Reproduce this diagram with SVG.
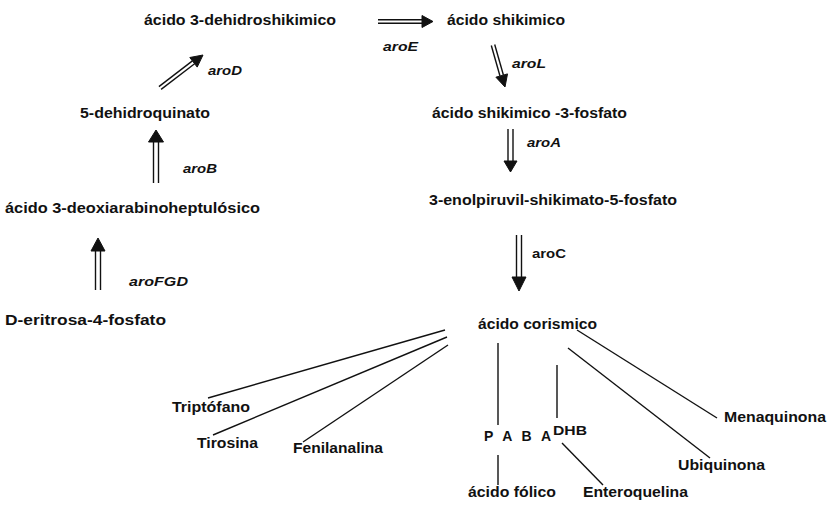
<svg xmlns="http://www.w3.org/2000/svg" width="833" height="508" viewBox="0 0 833 508">
<style>
.t{font-family:"Liberation Sans",Arial,sans-serif;font-weight:bold;font-size:14px;fill:#111}
.e{font-family:"Liberation Sans",Arial,sans-serif;font-weight:bold;font-style:italic;font-size:13px;fill:#111}
.s{font-family:"Liberation Sans",Arial,sans-serif;font-weight:bold;font-size:13px;fill:#111}
.l{stroke:#111;stroke-width:1.4;fill:none}
.h{fill:#111;stroke:#111;stroke-width:1;stroke-linejoin:round}
</style>
<rect width="833" height="508" fill="#fff"/>
<g id="n-dehidroshikimico"><text class="t" x="144" y="25" textLength="192" lengthAdjust="spacingAndGlyphs">ácido 3-dehidroshikimico</text></g>
<g id="n-shikimico"><text class="t" x="447" y="25" textLength="118" lengthAdjust="spacingAndGlyphs">ácido shikimico</text></g>
<g id="n-dehidroquinato"><text class="t" x="80" y="118" textLength="130" lengthAdjust="spacingAndGlyphs">5-dehidroquinato</text></g>
<g id="n-deoxiarabino"><text class="t" x="5" y="213" textLength="255" lengthAdjust="spacingAndGlyphs">ácido 3-deoxiarabinoheptulósico</text></g>
<g id="n-eritrosa"><text class="t" x="5" y="325" textLength="161" lengthAdjust="spacingAndGlyphs">D-eritrosa-4-fosfato</text></g>
<g id="n-shikimico3f"><text class="t" x="432" y="118" textLength="195" lengthAdjust="spacingAndGlyphs">ácido shikimico -3-fosfato</text></g>
<g id="n-enolpiruvil"><text class="t" x="429" y="205" textLength="248" lengthAdjust="spacingAndGlyphs">3-enolpiruvil-shikimato-5-fosfato</text></g>
<g id="n-corismico"><text class="t" x="478" y="329" textLength="119" lengthAdjust="spacingAndGlyphs">ácido corismico</text></g>
<g id="n-triptofano"><text class="t" x="172" y="412" textLength="78" lengthAdjust="spacingAndGlyphs">Triptófano</text></g>
<g id="n-tirosina"><text class="t" x="197" y="448" textLength="61" lengthAdjust="spacingAndGlyphs">Tirosina</text></g>
<g id="n-fenilanalina"><text class="t" x="293" y="453" textLength="90" lengthAdjust="spacingAndGlyphs">Fenilanalina</text></g>
<g id="n-paba"><text class="t" x="484" y="441" textLength="67" lengthAdjust="spacing">P A B A</text></g>
<g id="n-dhb"><text class="s" x="553" y="435" textLength="34" lengthAdjust="spacingAndGlyphs">DHB</text></g>
<g id="n-folico"><text class="t" x="468" y="497" textLength="88" lengthAdjust="spacingAndGlyphs">ácido fólico</text></g>
<g id="n-enteroquelina"><text class="t" x="583" y="497" textLength="105" lengthAdjust="spacingAndGlyphs">Enteroquelina</text></g>
<g id="n-ubiquinona"><text class="t" x="678" y="470" textLength="87" lengthAdjust="spacingAndGlyphs">Ubiquinona</text></g>
<g id="n-menaquinona"><text class="t" x="724" y="422" textLength="102" lengthAdjust="spacingAndGlyphs">Menaquinona</text></g>
<g id="labels">
<text class="e" x="383" y="51" textLength="35" lengthAdjust="spacingAndGlyphs">aroE</text>
<text class="e" x="208" y="75" textLength="34" lengthAdjust="spacingAndGlyphs">aroD</text>
<text class="e" x="512" y="68" textLength="34" lengthAdjust="spacingAndGlyphs">aroL</text>
<text class="e" x="183" y="173" textLength="34" lengthAdjust="spacingAndGlyphs">aroB</text>
<text class="e" x="527" y="147" textLength="34" lengthAdjust="spacingAndGlyphs">aroA</text>
<text class="s" x="532" y="258" textLength="34" lengthAdjust="spacingAndGlyphs">aroC</text>
<text class="e" x="129" y="286" textLength="59" lengthAdjust="spacingAndGlyphs">aroFGD</text>
</g>
<g id="connectors">
<line class="l" x1="378" y1="19.8" x2="424" y2="19.8"/>
<line class="l" x1="378" y1="23.3" x2="424" y2="23.3"/>
<polygon class="h" points="422,15.5 433,21.5 422,27.5"/>
<line class="l" x1="158.9" y1="86.6" x2="192.4" y2="60.9"/>
<line class="l" x1="161.1" y1="89.4" x2="194.6" y2="63.7"/>
<polygon class="h" points="203,55 197.2,67.1 189.8,57.5"/>
<line class="l" x1="491.3" y1="45.5" x2="500" y2="76"/>
<line class="l" x1="494.7" y1="44.5" x2="503.4" y2="75"/>
<polygon class="h" points="505,87 507.5,73.9 495.9,77.2"/>
<line class="l" x1="153.5" y1="183" x2="153.5" y2="141"/>
<line class="l" x1="158.5" y1="183" x2="158.5" y2="141"/>
<polygon class="h" points="148.5,142 156,130 163.5,142"/>
<line class="l" x1="95.5" y1="290" x2="95.5" y2="250"/>
<line class="l" x1="100.5" y1="290" x2="100.5" y2="250"/>
<polygon class="h" points="91,251 98,238 105,251"/>
<line class="l" x1="508" y1="129" x2="508" y2="162"/>
<line class="l" x1="513" y1="129" x2="513" y2="162"/>
<polygon class="h" points="504,161 510.5,172 517,161"/>
<line class="l" x1="516.5" y1="235" x2="516.5" y2="278"/>
<line class="l" x1="521.5" y1="235" x2="521.5" y2="278"/>
<polygon class="h" points="512,277 519,291 526,277"/>
<line class="l" x1="445" y1="330" x2="208" y2="398"/>
<line class="l" x1="447" y1="337" x2="213" y2="435"/>
<line class="l" x1="448" y1="345" x2="303" y2="442"/>
<line class="l" x1="498" y1="343" x2="498" y2="425"/>
<line class="l" x1="498" y1="455" x2="498" y2="485"/>
<line class="l" x1="557" y1="365" x2="557" y2="418"/>
<line class="l" x1="562" y1="443" x2="603" y2="485"/>
<line class="l" x1="568" y1="348" x2="710" y2="458"/>
<line class="l" x1="577" y1="330" x2="717" y2="418"/>
</g>
</svg>
